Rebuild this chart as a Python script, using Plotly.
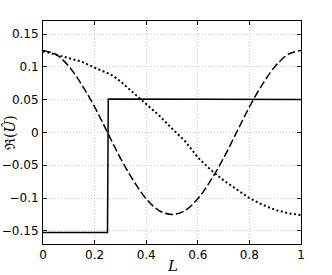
import plotly.graph_objects as go

# Dashed curve
L_dash = [0, 0.05, 0.1, 0.15, 0.2, 0.25, 0.3, 0.35, 0.4, 0.45, 0.5,
          0.55, 0.6, 0.65, 0.7, 0.75, 0.8, 0.85, 0.9, 0.95, 1.0]
U_dash = [0.125, 0.119, 0.101, 0.073, 0.039, 0.0, -0.039, -0.073, -0.101, -0.119, -0.125,
          -0.119, -0.101, -0.073, -0.039, 0.0, 0.039, 0.073, 0.101, 0.119, 0.125]

# Dotted curve
L_dot = [0, 0.05, 0.1, 0.15, 0.2, 0.25, 0.265, 0.3, 0.35, 0.4, 0.45, 0.5,
         0.55, 0.6, 0.65, 0.7, 0.75, 0.8, 0.85, 0.9, 0.95, 1.0]
U_dot = [0.124, 0.119, 0.114, 0.108, 0.099, 0.091, 0.088, 0.078, 0.061, 0.043, 0.026, 0.006,
         -0.013, -0.038, -0.057, -0.073, -0.087, -0.100, -0.110, -0.118, -0.123, -0.126]

# Solid step
L_step = [0, 0.25, 0.253, 1.0]
U_step = [-0.1525, -0.1525, 0.051, 0.0505]

x_ticks = [0, 0.2, 0.4, 0.6, 0.8, 1]
x_labels = ["0", "0.2", "0.4", "0.6", "0.8", "1"]
y_ticks = [-0.15, -0.1, -0.05, 0, 0.05, 0.1, 0.15]
y_labels = ["\u22120.15", "\u22120.1", "\u22120.05", "0", "0.05", "0.1", "0.15"]

fig = go.Figure()
fig.add_trace(go.Scatter(x=L_dash, y=U_dash, mode="lines", line_shape="spline",
                         line=dict(color="black", width=1.5, dash="8px,3px"), showlegend=False))
fig.add_trace(go.Scatter(x=L_dot, y=U_dot, mode="lines",
                         line=dict(color="black", width=2, dash="2px,2.5px"), showlegend=False))
fig.add_trace(go.Scatter(x=L_step, y=U_step, mode="lines",
                         line=dict(color="black", width=1.5), showlegend=False))

axis_common = dict(showline=True, linecolor="black", linewidth=1, mirror="ticks",
                   ticks="inside", ticklen=4, tickcolor="black", automargin=False,
                   showgrid=True, gridcolor="#c8c8c8", griddash="1px,2px", gridwidth=1,
                   zeroline=False, tickfont=dict(family="DejaVu Sans", size=12, color="black"))

fig.update_xaxes(range=[0, 1], tickvals=x_ticks, ticktext=x_labels, ticklabelstandoff=0,
                 **axis_common)
fig.update_yaxes(range=[-0.17, 0.17], tickvals=y_ticks, ticktext=y_labels, ticklabelstandoff=1,
                 **axis_common)

fig.add_annotation(text="<i>L</i>", xref="paper", yref="paper", x=0.5, y=-0.099,
                   xanchor="center", yanchor="middle", showarrow=False,
                   font=dict(family="DejaVu Serif", size=15, color="black"))
fig.add_annotation(text="\u211c(<i>\u00db</i>)", xref="paper", yref="paper", x=-0.13, y=0.5,
                   xanchor="center", yanchor="middle", textangle=-90, showarrow=False,
                   font=dict(family="DejaVu Serif", size=14, color="black"))

fig.update_layout(width=332, height=275, margin=dict(l=43, r=31, t=21, b=31),
                  plot_bgcolor="white", paper_bgcolor="white")

fig.write_html("out.html", config={"displayModeBar": False},
               post_script="document.body.style.margin='0';document.body.style.overflow='hidden';")
